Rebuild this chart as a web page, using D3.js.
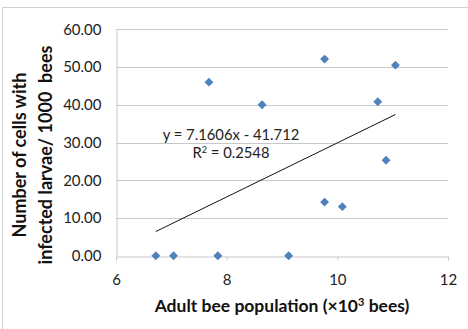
<!DOCTYPE html>
<html>
<head>
<meta charset="utf-8">
<script src="https://d3js.org/d3.v7.min.js"></script>
<style>
  body { margin: 0; background: #fff; }
  svg { display: block; font-family: Lato, "Open Sans", sans-serif; }
</style>
</head>
<body>
<div id="chart"></div>
<script>
  // adult bee population (x10^3) and infected cells per 1000 bees
  var beePop   = [6.72, 7.04, 7.84, 9.12, 7.68, 8.64, 9.77, 11.05, 10.73, 10.88, 9.77, 10.09]
  var infected = [0, 0, 0, 0, 46.0, 40.0, 52.1, 50.5, 40.8, 25.3, 14.2, 13.0]
  var xTicks = [6, 8, 10, 12]
  var yTicks = [0, 10, 20, 30, 40, 50, 60]
  var slope = 7.1606, intercept = -41.712

  var width = 468, height = 329

  var svg = d3.select('#chart').append('svg')
    .attr('width', width)
    .attr('height', height)

  // chart border
  svg.append('rect')
    .attr('x', 2.5).attr('y', 7.5)
    .attr('width', 480).attr('height', 340)
    .attr('fill', 'none')
    .attr('stroke', '#d0d0d0')

  var x = d3.scaleLinear().domain([6, 12]).range([116, 448])
  var y = d3.scaleLinear().domain([0, 60]).range([255.7, 29.3])

  // gridlines
  svg.append('g')
    .selectAll('line')
    .data(yTicks.filter(d => d > 0))
    .enter().append('line')
    .attr('x1', x(6)).attr('x2', x(12))
    .attr('y1', d => Math.round(y(d)) + 0.5).attr('y2', d => Math.round(y(d)) + 0.5)
    .attr('stroke', '#c8c8c8')

  // y axis
  var yAxis = svg.append('g')
    .attr('transform', 'translate(' + (Math.round(x(6)) + 0.5) + ',0)')
    .call(d3.axisLeft(y).tickValues(yTicks).tickFormat(d3.format('.2f')).tickSize(0).tickPadding(15))
  yAxis.select('.domain').attr('stroke', '#c8c8c8')
  yAxis.selectAll('text').attr('font-size', 15).attr('fill', '#222').attr('font-family', 'Lato')

  // x axis
  var xAxis = svg.append('g')
    .attr('transform', 'translate(0,' + (Math.round(y(0)) + 0.5) + ')')
    .call(d3.axisBottom(x).tickValues(xTicks).tickFormat(d3.format('d')).tickSize(4).tickPadding(14))
  xAxis.select('.domain').attr('stroke', '#c8c8c8')
  xAxis.selectAll('line').attr('stroke', '#c8c8c8')
  xAxis.selectAll('text').attr('font-size', 15).attr('fill', '#222').attr('font-family', 'Lato')

  // trendline over the data range
  var xr = d3.extent(beePop)
  svg.append('line')
    .attr('x1', x(xr[0])).attr('y1', y(slope * xr[0] + intercept))
    .attr('x2', x(xr[1])).attr('y2', y(slope * xr[1] + intercept))
    .attr('stroke', '#111')
    .attr('stroke-width', 1)

  // points
  svg.append('g')
    .selectAll('path')
    .data(beePop)
    .enter().append('path')
    .attr('d', d3.symbol().type(d3.symbolSquare).size(40))
    .attr('transform', (d, i) => 'translate(' + x(d) + ',' + y(infected[i]) + ') rotate(45)')
    .attr('fill', '#4f81bd')

  // equation label
  svg.append('text')
    .attr('x', 231).attr('y', 140)
    .attr('text-anchor', 'middle')
    .attr('font-size', 14.8)
    .attr('fill', '#222')
    .text('y = 7.1606x - 41.712')
  var r2 = svg.append('text')
    .attr('x', 231).attr('y', 158)
    .attr('text-anchor', 'middle')
    .attr('font-size', 14.8)
    .attr('fill', '#222')
  r2.append('tspan').text('R')
  r2.append('tspan').attr('dy', -5).attr('font-size', 9).text('2')
  r2.append('tspan').attr('dy', 5).text(' = 0.2548')

  // axis titles
  svg.append('text')
    .attr('transform', 'translate(26,155) rotate(-90)')
    .attr('text-anchor', 'middle')
    .attr('font-size', 18).attr('font-weight', 'bold')
    .attr('fill', '#111')
    .text('Number of cells with')
  svg.append('text')
    .attr('transform', 'translate(52,155) rotate(-90)')
    .attr('text-anchor', 'middle')
    .attr('font-size', 18).attr('font-weight', 'bold')
    .attr('fill', '#111')
    .attr('xml:space', 'preserve')
    .text('infected larvae/ 1000  bees')

  var xt = svg.append('text')
    .attr('x', 282).attr('y', 312)
    .attr('text-anchor', 'middle')
    .attr('font-size', 17.5).attr('font-weight', 'bold')
    .attr('fill', '#111')
  xt.append('tspan').text('Adult bee population (\u00d710')
  xt.append('tspan').attr('dy', -6).attr('font-size', 11).text('3')
  xt.append('tspan').attr('dy', 6).text(' bees)')
</script>
</body>
</html>
